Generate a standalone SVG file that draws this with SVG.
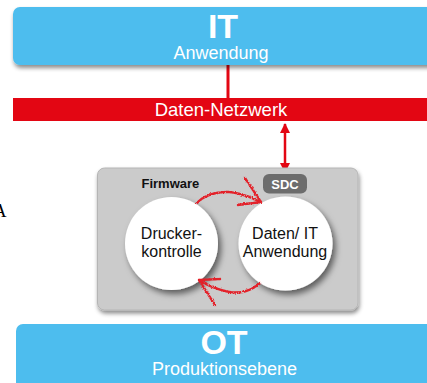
<svg xmlns="http://www.w3.org/2000/svg" width="427" height="383" viewBox="0 0 427 383">
<style>
.sans{font-family:"Liberation Sans",Arial,Helvetica,sans-serif}
.w{fill:#ffffff}
.k{fill:#111111}
.big{font-size:34px;font-weight:bold}
.sub{font-size:18px}
.ct{font-size:16px}
.blue{fill:#4DBDEE}
.sq{fill:none;stroke:#E3202A;stroke-width:2.4;stroke-linecap:round;stroke-linejoin:round;stroke-dasharray:2 0.7;filter:url(#rough)}
</style>
<defs>
<filter id="sh" x="-10%" y="-10%" width="125%" height="140%">
<feDropShadow dx="1" dy="3" stdDeviation="2" flood-color="#000" flood-opacity="0.45"/>
</filter>
<filter id="csh" x="-20%" y="-20%" width="150%" height="150%">
<feDropShadow dx="3" dy="4" stdDeviation="3" flood-color="#000" flood-opacity="0.55"/>
</filter>
<filter id="rough" x="-20%" y="-20%" width="140%" height="140%">
<feTurbulence type="fractalNoise" baseFrequency="0.9" numOctaves="2" seed="3" result="n"/>
<feDisplacementMap in="SourceGraphic" in2="n" scale="3" xChannelSelector="R" yChannelSelector="G"/>
</filter>
<marker id="ah" viewBox="0 0 10 10" refX="9" refY="5" markerWidth="4.2" markerHeight="4.2" orient="auto-start-reverse" markerUnits="strokeWidth">
<path d="M0,0 L10,5 L0,10 z" fill="#E30613"/>
</marker>
</defs>

<text x="-6.5" y="217" font-family="'Liberation Serif','Times New Roman',serif" font-size="18" fill="#000">A</text>

<g id="connectors">
<line x1="228" y1="64" x2="228" y2="99" stroke="#E30613" stroke-width="3"/>
<line x1="285" y1="124" x2="285" y2="172" stroke="#E30613" stroke-width="2.5" marker-start="url(#ah)" marker-end="url(#ah)"/>
</g>

<g id="node-it">
<rect x="13" y="7" width="430" height="58" rx="7" class="blue" filter="url(#sh)"/>
<text x="223" y="37.5" text-anchor="middle" class="sans w big">IT</text>
<text x="221" y="59" text-anchor="middle" class="sans w sub">Anwendung</text>
</g>

<g id="node-network">
<rect x="13" y="98" width="420" height="23" fill="#E30613"/>
<text x="221" y="116" text-anchor="middle" class="sans w" font-size="18.5">Daten-Netzwerk</text>
</g>

<g id="node-firmware">
<rect x="97.5" y="168" width="260.5" height="142" rx="7" fill="#CBCBCB" stroke="#B5B5B5" stroke-width="1" filter="url(#sh)"/>
<text x="141.5" y="187.5" class="sans k" font-size="13" font-weight="bold">Firmware</text>
</g>

<g id="node-sdc">
<rect x="263" y="174" width="44" height="19.5" rx="6" fill="#6D6D6D"/>
<text x="285" y="188.5" text-anchor="middle" class="sans w" font-size="13" font-weight="bold">SDC</text>
</g>

<g id="node-drucker">
<circle cx="171.5" cy="243.5" r="46.5" fill="#fff" filter="url(#csh)"/>
<text x="171.5" y="238.5" text-anchor="middle" class="sans k ct">Drucker-</text>
<text x="171.5" y="257" text-anchor="middle" class="sans k ct">kontrolle</text>
</g>

<g id="node-daten">
<circle cx="285.5" cy="243.5" r="47" fill="#fff" filter="url(#csh)"/>
<text x="285" y="238.5" text-anchor="middle" class="sans k ct">Daten/ IT</text>
<text x="285" y="257" text-anchor="middle" class="sans k ct">Anwendung</text>
</g>

<g id="loop-arrows">
<path class="sq" d="M197,203 C205,194 222,190 236,193 C248,196 255,199 260,202"/>
<path class="sq" d="M245,178 L261,202 L238,205"/>
<path class="sq" d="M260,283 C252,290 242,294 230,292 C218,290 207,285 199,280"/>
<path class="sq" d="M220,279 L199,280 L215,305"/>
</g>

<g id="node-ot">
<rect x="16" y="324" width="430" height="80" rx="7" class="blue"/>
<text x="224" y="353.5" text-anchor="middle" class="sans w big">OT</text>
<text x="224.5" y="375" text-anchor="middle" class="sans w sub">Produktionsebene</text>
</g>
</svg>
